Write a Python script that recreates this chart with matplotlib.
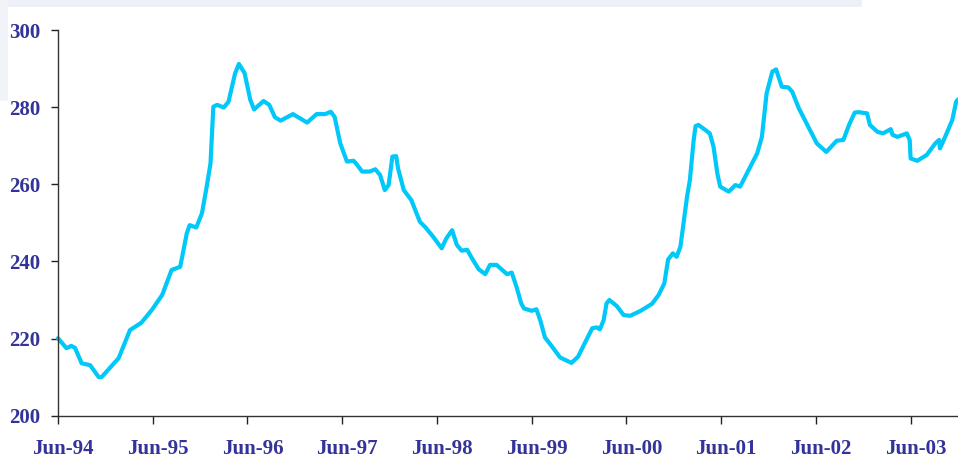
import numpy as np
import matplotlib
matplotlib.use("Agg")
import matplotlib.pyplot as plt
import matplotlib.transforms as mtransforms
from matplotlib.patches import Rectangle

# years after Jun-94
t = [0.00, 0.09, 0.14, 0.18, 0.25, 0.34, 0.43, 0.46, 0.64, 0.76, 0.88, 0.99,
     1.10, 1.20, 1.29, 1.36, 1.39, 1.46, 1.52, 1.57, 1.61, 1.64, 1.68, 1.75,
     1.80, 1.87, 1.91, 1.97, 2.03, 2.07, 2.17, 2.23, 2.29, 2.35, 2.48, 2.63,
     2.73, 2.82, 2.88, 2.92, 2.98, 3.05, 3.12, 3.15, 3.21, 3.29, 3.35, 3.40,
     3.45, 3.49, 3.53, 3.57, 3.59, 3.65, 3.73, 3.82, 3.88, 3.96, 4.05, 4.10,
     4.16, 4.21, 4.26, 4.32, 4.37, 4.44, 4.51, 4.56, 4.63, 4.74, 4.79, 4.84,
     4.89, 4.92, 5.00, 5.05, 5.09, 5.14, 5.21, 5.30, 5.42, 5.49, 5.56, 5.64,
     5.69, 5.72, 5.76, 5.79, 5.82, 5.90, 5.97, 6.04, 6.15, 6.27, 6.34, 6.40,
     6.44, 6.49, 6.53, 6.57, 6.64, 6.67, 6.71, 6.73, 6.76, 6.81, 6.88, 6.92,
     6.96, 6.99, 7.08, 7.15, 7.20, 7.29, 7.38, 7.43, 7.48, 7.54, 7.58, 7.64,
     7.71, 7.75, 7.82, 7.92, 8.01, 8.11, 8.22, 8.29, 8.35, 8.41, 8.45, 8.54,
     8.57, 8.65, 8.71, 8.79, 8.81, 8.86, 8.96, 8.99, 9.00, 9.07, 9.17, 9.26,
     9.30, 9.31, 9.38, 9.44, 9.48, 9.50]
vals = [220.1, 217.5, 218.1, 217.6, 213.6, 213.1, 210.0, 210.0, 214.9, 222.2, 224.1, 227.4,
        231.3, 237.8, 238.6, 247.3, 249.4, 248.8, 252.5, 259.4, 265.4, 280.1, 280.6, 279.9,
        281.4, 288.8, 291.2, 288.8, 281.9, 279.4, 281.6, 280.6, 277.4, 276.5, 278.2, 276.0,
        278.2, 278.2, 278.8, 277.5, 270.6, 265.9, 266.1, 265.3, 263.3, 263.3, 263.9, 262.4,
        258.5, 259.8, 267.2, 267.3, 264.1, 258.5, 255.9, 250.3, 248.8, 246.4, 243.4, 246.0,
        248.1, 244.3, 242.8, 243.0, 240.8, 238.0, 236.7, 239.1, 239.1, 236.7, 237.1, 233.4,
        229.1, 227.8, 227.2, 227.6, 224.8, 220.3, 218.1, 215.1, 213.7, 215.3, 218.8, 222.7,
        222.9, 222.4, 224.8, 229.1, 230.0, 228.4, 226.1, 225.9, 227.2, 229.0, 231.3, 234.3,
        240.5, 242.1, 241.2, 243.8, 256.8, 261.1, 271.5, 275.1, 275.4, 274.5, 273.2, 269.7,
        262.8, 259.4, 258.1, 259.8, 259.4, 263.7, 268.0, 272.3, 283.6, 289.2, 289.8, 285.3,
        285.1, 284.0, 279.7, 274.9, 270.6, 268.4, 271.3, 271.5, 275.4, 278.6, 278.7, 278.4,
        275.4, 273.6, 273.2, 274.3, 272.8, 272.3, 273.2, 271.5, 266.7, 266.1, 267.6, 270.6,
        271.5, 269.3, 273.2, 276.7, 281.4, 282.0]

tick_labels = ["Jun-94", "Jun-95", "Jun-96", "Jun-97", "Jun-98",
               "Jun-99", "Jun-00", "Jun-01", "Jun-02", "Jun-03"]
y_ticks = [200, 220, 240, 260, 280, 300]

text_color = "#333399"
line_color = "#00c8f8"

fig = plt.figure(figsize=(9.58, 4.59), dpi=100)
fig.patch.set_facecolor("white")

# faint slide-template bands at top and left
fig.patches.append(Rectangle((0, 0.984), 0.9, 0.016, transform=fig.transFigure,
                             facecolor="#edf1f7", edgecolor="none", zorder=0))
fig.patches.append(Rectangle((0, 0.78), 0.008, 0.22, transform=fig.transFigure,
                             facecolor="#f0f4f9", edgecolor="none", zorder=0))

ax = fig.add_axes([0.0605, 0.0943, 0.9395, 0.8403])
ax.plot(t, vals, color=line_color, lw=3, solid_joinstyle="round",
        solid_capstyle="round", clip_on=False)

ax.set_xlim(0, 9.50)
ax.set_ylim(200, 300)
ax.set_xticks(range(len(tick_labels)))
ax.set_xticklabels(tick_labels)
ax.set_yticks(y_ticks)

for s in ["top", "right"]:
    ax.spines[s].set_visible(False)
for s in ["left", "bottom"]:
    ax.spines[s].set_color("#333333")
    ax.spines[s].set_linewidth(1.0)

ax.tick_params(axis="x", direction="out", length=6, width=1, color="#222222", pad=11)
ax.tick_params(axis="y", direction="out", length=5, width=1, color="#222222", pad=8)

for lab in ax.get_xticklabels() + ax.get_yticklabels():
    lab.set_family(["Liberation Serif", "DejaVu Serif"])
    lab.set_fontweight("bold")
    lab.set_fontsize(15)
    lab.set_color(text_color)

offset = mtransforms.ScaledTranslation(5 / 100, 0, fig.dpi_scale_trans)
for lab in ax.get_xticklabels():
    lab.set_transform(lab.get_transform() + offset)

fig.savefig("out.png", dpi=100)
